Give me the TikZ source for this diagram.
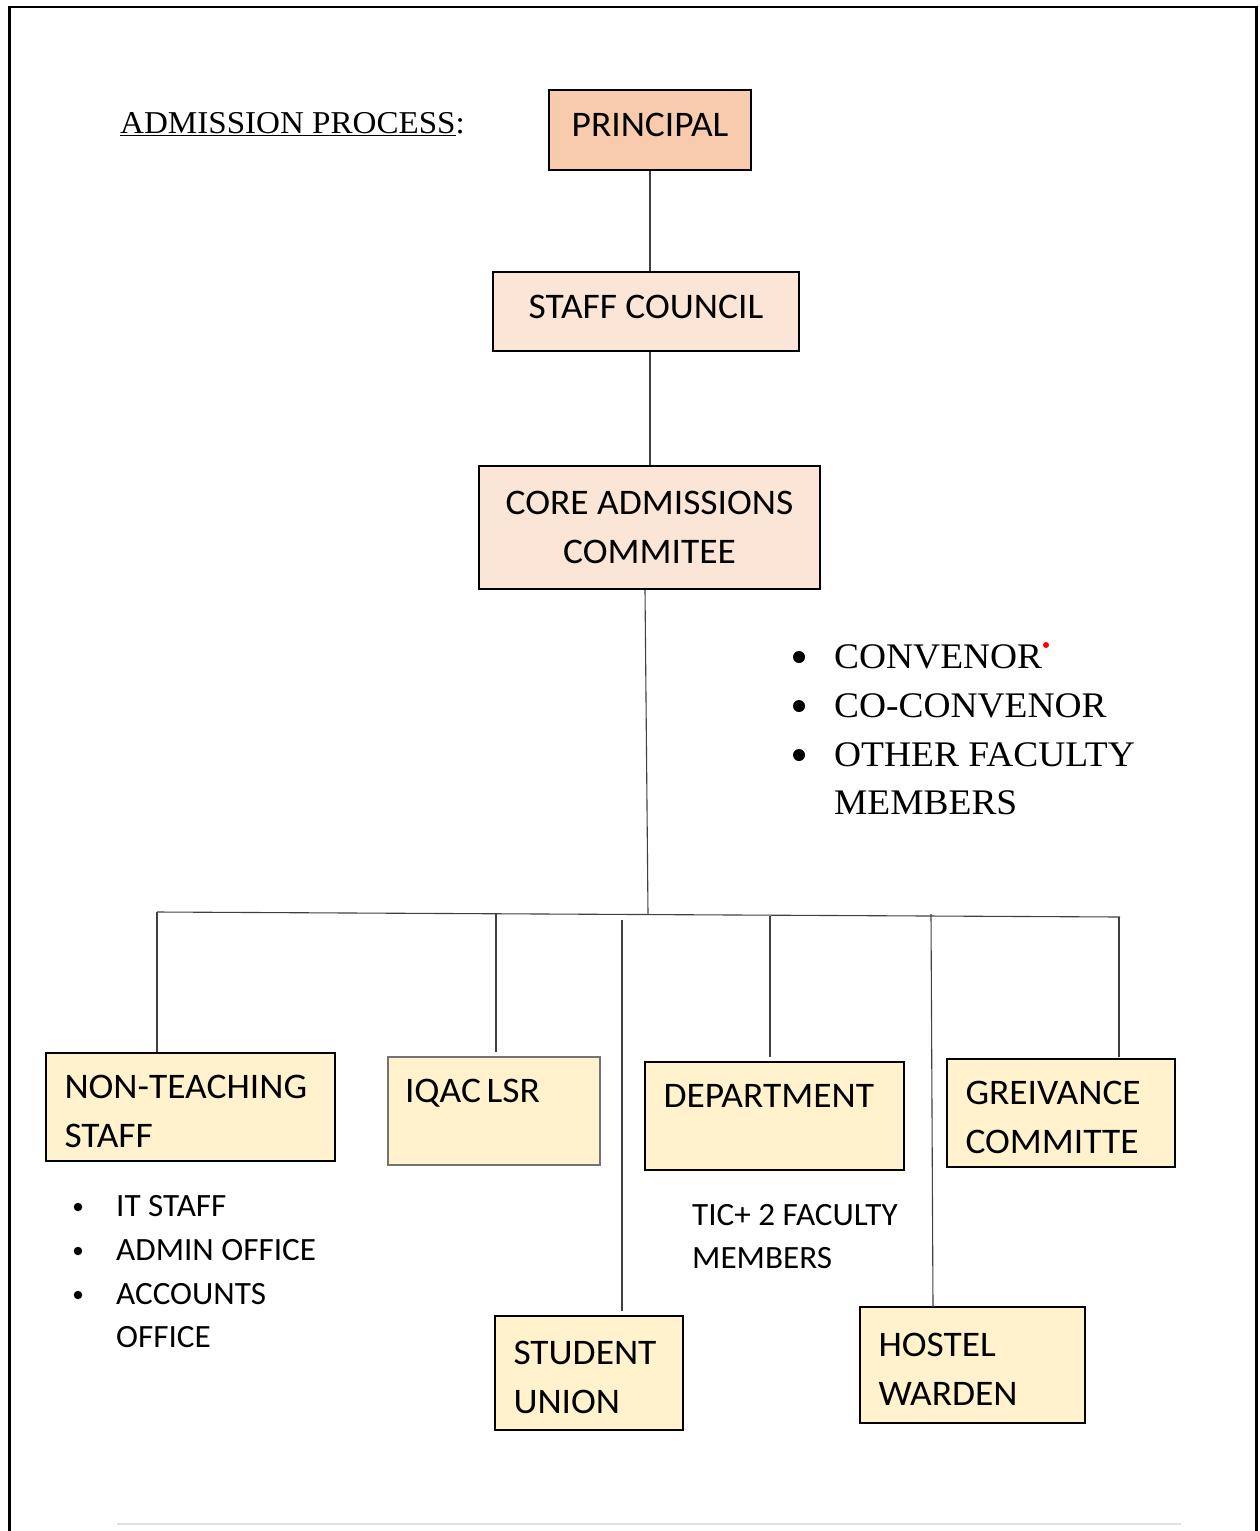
\documentclass[tikz,border=0pt]{standalone}
\usepackage{fontspec}
\setmainfont{Liberation Serif}[FakeStretch=1.04]
\newfontfamily\carlito{Carlito}[FakeStretch=1.04]
\newfontfamily\carlitosm{Carlito}[FakeStretch=1.02]
\definecolor{salmon}{HTML}{F8CBAD}
\definecolor{peach}{HTML}{FBE5D6}
\definecolor{cream}{HTML}{FFF2CC}
\newcommand{\firstup}{\rule{0pt}{32pt}}
\newcommand{\singleup}{\rule[-10pt]{0pt}{10pt}}
\begin{document}
\begin{tikzpicture}[x=1pt,y=-1pt,
  box/.style={draw=black, line width=2pt, inner ysep=0pt, inner xsep=0pt,
    font=\carlito\fontsize{36}{49}\selectfont},
  cbox/.style={box, align=center},
  lbox/.style={box, fill=cream, align=left, inner xsep=18.5pt},
  conn/.style={draw=black!75, line width=1.1pt},
  serline/.style={anchor=base west, inner sep=0pt, font=\fontsize{36}{49}\selectfont},
  calline/.style={anchor=base west, inner sep=0pt, font=\carlitosm\fontsize{32.5}{44}\selectfont},
  bigdot/.style={circle, fill=black, inner sep=0pt, minimum size=12pt},
  smalldot/.style={circle, fill=black, inner sep=0pt, minimum size=8.5pt},
  frame/.style={line width=2.6pt, draw=black}
]
\useasboundingbox (0,0) rectangle (1260,1531);
% outer frame
\draw[frame] (9.5,1540) -- (9.5,7) -- (1256.5,7) -- (1256.5,1540);
\draw[black!12, line width=1.6pt] (117,1524) -- (1181,1524);

% heading
\node[anchor=base west, inner sep=0pt, font=\fontsize{31.8}{40}\selectfont] (head) at (120,133)
  {\underline{ADMISSION PROCESS}:};

% top boxes
\node[cbox, fill=salmon, minimum width=202pt, minimum height=80pt] (P) at (650,130)
  {\singleup PRINCIPAL};
\node[cbox, fill=peach, minimum width=306pt, minimum height=79pt] (SC) at (646,311.5)
  {\singleup STAFF COUNCIL};
\node[cbox, fill=peach, minimum width=341pt, minimum height=123pt] (CAC) at (649.5,527.5)
  {CORE ADMISSIONS\\COMMITEE};

% lower boxes
\node[lbox, text width=252pt, minimum height=108pt] (NT) at (190.5,1107)
  {\firstup NON-TEACHING\\STAFF};
\node[lbox, draw=black!55, line width=1.2pt, inner xsep=17pt, text width=178pt, minimum height=108pt] (IQ) at (494,1111)
  {\firstup IQAC\hspace{0.16em}LSR\\\mbox{}};
\node[lbox, text width=222pt, minimum height=108pt] (DEP) at (774.5,1116)
  {\firstup DEPARTMENT\\\mbox{}};
\node[lbox, text width=191pt, minimum height=108pt] (GR) at (1061,1113)
  {\firstup GREIVANCE\\COMMITTE};
\node[lbox, text width=151pt, minimum height=114pt] (SU) at (589,1373)
  {\firstup STUDENT\\UNION};
\node[lbox, text width=188pt, minimum height=116pt] (HW) at (972.5,1365)
  {\firstup HOSTEL\\WARDEN};

% connectors
\draw[conn] (P.south) -- (P.south |- SC.north);
\draw[conn] (P.south |- SC.south) -- (P.south |- CAC.north);
\coordinate (J) at (648,914);
\coordinate (HL) at (157,912);
\coordinate (HR) at (1120,917);
\draw[conn] ([xshift=-4.5pt]CAC.south) -- (J);
\draw[conn] (HL) -- (HR);
\coordinate (tNT) at (157,912);
\coordinate (tIQ) at (496,914);
\coordinate (eIQ) at (496,1052);
\coordinate (tSU) at (622,920);
\coordinate (eSU) at (622,1311);
\coordinate (tDEP) at (770,916);
\coordinate (eDEP) at (770,1057);
\coordinate (tHW) at (931,914);
\coordinate (tGR) at (1119,917);
\coordinate (eGR) at (1119,1057);
\draw[conn] (tNT) -- (tNT |- NT.north);
\draw[conn] (tIQ) -- (eIQ);
\draw[conn] (tSU) -- (eSU);
\draw[conn] (tDEP) -- (eDEP);
\draw[conn] (tHW) -- (933,1307);
\draw[conn] (tGR) -- (eGR);

% core committee members list
\node[bigdot] (b1) at (799,657) {};
\node[bigdot] (b2) at (799,706) {};
\node[bigdot] (b3) at (799,755) {};
\node[serline] (m1) at (834,668) {CONVENOR};
\node[serline] (m2) at (834,717) {CO-CONVENOR};
\node[serline] (m3) at (834,766) {OTHER FACULTY};
\node[serline] (m4) at (834,814) {MEMBERS};
\node[circle, fill=red, inner sep=0pt, minimum size=6pt] (dot) at (1046,645) {};

% non-teaching staff list
\node[smalldot] (s1) at (78,1207) {};
\node[smalldot] (s2) at (78,1251) {};
\node[smalldot] (s3) at (78,1295) {};
\node[calline] (n1) at (116,1216) {IT STAFF};
\node[calline] (n2) at (116,1260) {ADMIN OFFICE};
\node[calline] (n3) at (116,1304) {ACCOUNTS};
\node[calline] (n4) at (116,1347) {OFFICE};

% department note
\node[calline] (d1) at (692,1225) {TIC+ 2 FACULTY};
\node[calline] (d2) at (692,1268) {MEMBERS};
\end{tikzpicture}
\end{document}
